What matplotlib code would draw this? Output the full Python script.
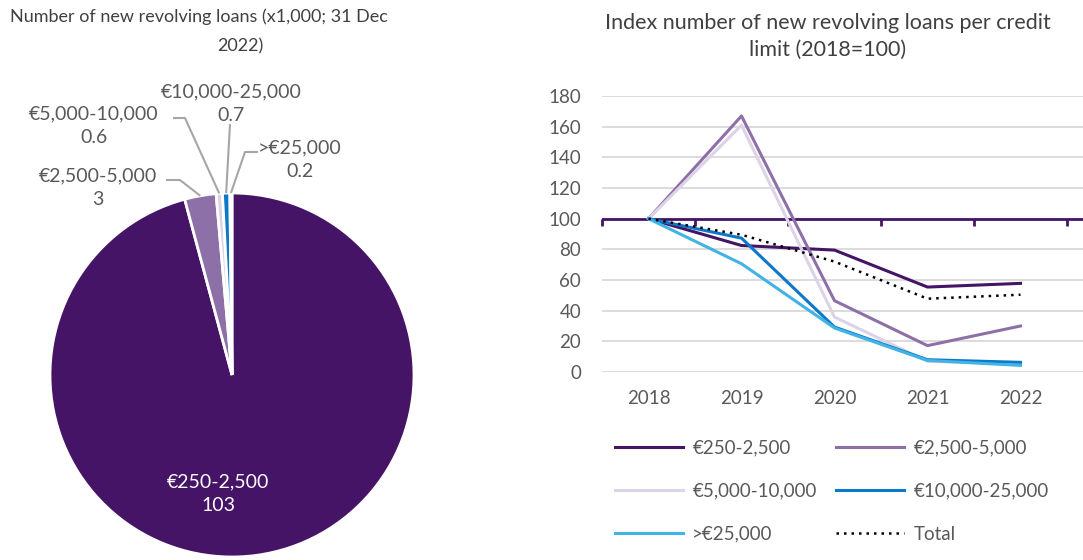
import matplotlib
matplotlib.use("Agg")
import matplotlib.pyplot as plt
from matplotlib.ticker import NullFormatter
import numpy as np

plt.rcParams['font.family'] = ['Lato', 'DejaVu Sans']

# ---- data ----
pie_labels = ["€250-2,500", "€2,500-5,000", "€5,000-10,000", "€10,000-25,000", ">€25,000"]
pie_values = [103, 3, 0.6, 0.7, 0.2]
pie_value_text = ["103", "3", "0.6", "0.7", "0.2"]

years = ["2018", "2019", "2020", "2021", "2022"]
series_names = ["€250-2,500", "€2,500-5,000", "€5,000-10,000", "€10,000-25,000", ">€25,000", "Total"]
idx_250_2500 = [100, 82.5, 79.5, 55.4, 57.8]
idx_2500_5000 = [100, 167, 46.5, 17.2, 30.0]
idx_5000_10000 = [100, 161, 35.8, 7.0, 5.5]
idx_10000_25000 = [100, 87.3, 29.3, 8.0, 6.3]
idx_25000_plus = [100, 70.6, 28.7, 7.5, 4.3]
idx_total = [100, 89.5, 72.0, 47.8, 50.4]

colors = ["#461466", "#8E70A9", "#DDD3E7", "#0B78C9", "#41B4E5", "#000000"]
TXT = "#595959"
TITLE = "#404040"

W, H = 1083, 560
fig = plt.figure(figsize=(W / 100, H / 100), dpi=100)

# ---- pie ----
R = 182.0
cx, cy = 232.0, 375.0  # centre in pixels from top-left
axp = fig.add_axes([0, 0, 470 / W, 1])


def px(x, y):
    return (x - cx) / R, (cy - y) / R


wedges, _ = axp.pie(pie_values, colors=colors[:5], startangle=90, counterclock=False,
                    radius=1.0, center=(0, 0), frame=True,
                    wedgeprops=dict(edgecolor="white", linewidth=2.0))
axp.set_xlim((0 - cx) / R, (470 - cx) / R)
axp.set_ylim((cy - H) / R, cy / R)
axp.set_aspect("auto")
axp.axis("off")

# label inside the large slice
tx, ty = px(218, 493.5)
axp.text(tx, ty, f"{pie_labels[0]}\n{pie_value_text[0]}", color="white", fontsize=14,
         ha="center", va="center", linespacing=1.45)

# outside labels with leader lines: (text centre, elbow point, line start)
outside = {
    1: ((98, 187.5), (180, 180), (166, 180)),
    2: ((94, 125.5), (185, 118), (173, 118)),
    3: ((231, 103.5), None, (230, 124)),
    4: ((300, 159.5), (245, 152), (258, 152)),
}
for i, (tc, elbow, start) in outside.items():
    w = wedges[i]
    mid = np.deg2rad((w.theta1 + w.theta2) / 2)
    ex, ey = np.cos(mid) * 1.0, np.sin(mid) * 1.0
    pts = [px(*start)]
    if elbow is not None:
        pts.append(px(*elbow))
    pts.append((ex, ey))
    xs, ys = zip(*pts)
    axp.plot(xs, ys, color="#A6A6A6", lw=1.5, solid_capstyle="butt")
    x, y = px(*tc)
    axp.text(x, y, f"{pie_labels[i]}\n{pie_value_text[i]}", color=TXT, fontsize=14,
             ha="center", va="center", linespacing=1.45)

fig.text(199 / W, 1 - 17 / H, "Number of new revolving loans (x1,000; 31 Dec",
         color=TITLE, fontsize=13, ha="center", va="center")
fig.text(240 / W, 1 - 46 / H, "2022)", color=TITLE, fontsize=13, ha="center", va="center")

# ---- line chart ----
left, right = 602, W
top, bottom = 96, 372
ax = fig.add_axes([left / W, 1 - bottom / H, (right - left) / W, (bottom - top) / H])
step = 93.0
x = np.arange(len(years))
ax.set_xlim(-0.5, (right - left) / step - 0.5)
ax.set_ylim(0, 180)

all_series = [idx_250_2500, idx_2500_5000, idx_5000_10000, idx_10000_25000, idx_25000_plus, idx_total]
handles = []
for name, vals, c in zip(series_names, all_series, colors):
    if name == "Total":
        h, = ax.plot(x, vals, color=c, lw=1.8, linestyle=(0, (1, 2)), label=name, zorder=5)
    else:
        h, = ax.plot(x, vals, color=c, lw=2.2, label=name, zorder=4)
    handles.append(h)

ax.set_yticks(np.arange(0, 181, 20))
ax.yaxis.grid(True, color="#D9D9D9", lw=1.3)
ax.set_axisbelow(True)
for s in ax.spines.values():
    s.set_visible(False)
ax.tick_params(axis="y", length=0, pad=15, labelsize=13.5, labelcolor=TXT)
ax.set_xticks(x)
ax.set_xticklabels(years)
ax.tick_params(axis="x", length=0, pad=13, labelsize=13.5, labelcolor=TXT)

# category axis crossing at 100
ax.axhline(100, color=colors[0], lw=2, zorder=3)
sec = ax.secondary_xaxis(100 / 180)
sec.xaxis.set_ticks_position("bottom")
sec.set_xticks(np.arange(-0.5, 5, 1.0))
sec.xaxis.set_major_formatter(NullFormatter())
sec.tick_params(axis="x", direction="out", length=5, width=2, color=colors[0])
for s in sec.spines.values():
    s.set_visible(False)

fig.text(828 / W, 1 - 36.5 / H, "Index number of new revolving loans per credit\nlimit (2018=100)",
         color=TITLE, fontsize=15.5, ha="center", va="center", linespacing=1.4)

order = [0, 2, 4, 1, 3, 5]
leg = fig.legend(handles=[handles[i] for i in order], loc="center",
                 bbox_to_anchor=(832 / W, 1 - 491 / H), ncol=2,
                 frameon=False, fontsize=13.5, handlelength=3.6, handletextpad=0.5,
                 columnspacing=1.05, labelspacing=1.4, labelcolor=TXT)

fig.savefig("out.png", dpi=100)
